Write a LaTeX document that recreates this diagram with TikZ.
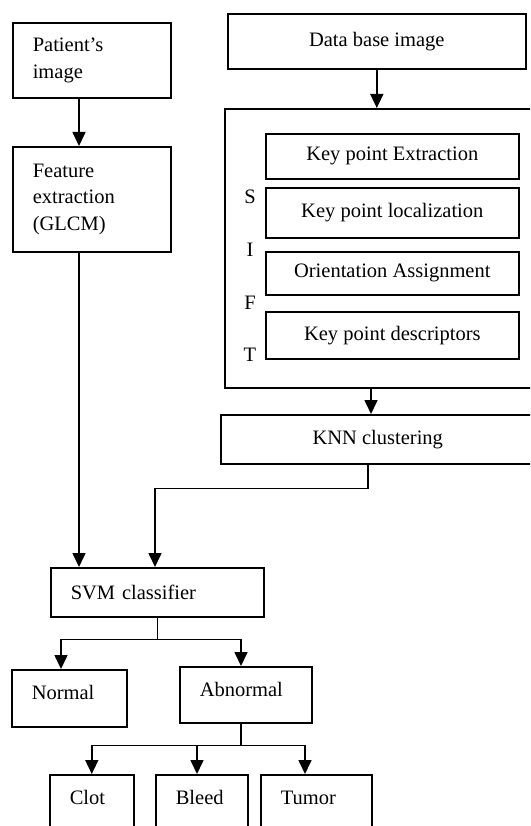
\documentclass[tikz,border=0pt]{standalone}
\usepackage{fontspec}
\setmainfont{Liberation Serif}
\usetikzlibrary{arrows.meta}
\tikzset{
  box/.style={draw, line width=1.6pt, anchor=north west, inner sep=0pt},
  lbox/.style={box, align=left, text width=#1, inner xsep=20pt},
  cbox/.style={box, align=center, minimum width=#1},
  low/.style={inner ysep=16pt, text height=14pt, text depth=#1},
  arr/.style={line width=1.6pt, -{Triangle[length=14pt,width=13pt]}},
  line/.style={line width=1.6pt},
}
\begin{document}
\begin{tikzpicture}[x=1pt, y=-1pt, font=\fontsize{20.5pt}{26.5pt}\selectfont]
\useasboundingbox (0,0) rectangle (530,826);
\clip (0,0) rectangle (530,826);
\node[lbox=118pt, minimum height=75pt] (patient) at (12,22) {Patient's\\image};
\node[lbox=118pt, minimum height=105pt] (feature) at (12,146) {Feature\\extraction\\(GLCM)};
\node[cbox=298pt, minimum height=55pt] (db) at (227,13) {Data base image};
\node[box, minimum width=310pt, minimum height=279pt] (sift) at (224,108) {};
\node[cbox=253pt, minimum height=45pt] (kpe) at (265,133) {Key point Extraction};
\node[cbox=253pt, minimum height=50pt] (kpl) at (265,187) {Key point localization};
\node[cbox=253pt, minimum height=43pt] (ori) at (265,251) {Orientation Assignment};
\node[cbox=253pt, minimum height=47pt] (kpd) at (265,311) {Key point descriptors};
\node (ls) at (250,197) {S};
\node (li) at (250,250) {I};
\node (lf) at (250,303) {F};
\node (lt) at (250,355) {T};
\node[cbox=314pt, minimum height=49pt] (knn) at (220,414) {KNN clustering};
\node[lbox=173pt, minimum height=49pt] (svm) at (50,567) {SVM classifier};
\node[lbox=75pt, low=11pt] (normal) at (11,669) {Normal};
\node[lbox=92pt, low=10pt] (abnormal) at (179,666) {Abnormal};
\node[lbox=44pt, low=30pt] (clot) at (49,774) {Clot};
\node[lbox=52pt, low=30pt] (bleed) at (155,774) {Bleed};
\node[lbox=71pt, low=30pt] (tumor) at (260,774) {Tumor};
\coordinate (lcol) at (79,0);
\coordinate (kin) at (371,0);
\coordinate (kout) at (368,0);
\coordinate (sin) at (155,0);
\coordinate (nin) at (61,0);
\coordinate (ain) at (241,0);
\coordinate (bin) at (197,0);
\coordinate (tin) at (305,0);
\draw[arr] (lcol |- patient.south) -- (lcol |- feature.north);
\draw[arr] (lcol |- feature.south) -- (lcol |- svm.north);
\draw[arr] (db.south) -- (db.south |- sift.north);
\draw[arr] (kin |- sift.south) -- (kin |- knn.north);
\draw[arr] (kout |- knn.south) -- ++(0,24) -| (sin |- svm.north);
\draw[line] (svm.south) -- ++(0,22) coordinate (svsplit);
\draw[arr] (svsplit) -| (nin |- normal.north);
\draw[arr] (svsplit) -| (ain |- abnormal.north);
\draw[line] (ain |- abnormal.south) -- ++(0,22) coordinate (absplit);
\draw[arr] (absplit) -| (clot.north);
\draw[arr] (absplit) -| (bin |- bleed.north);
\draw[arr] (absplit) -| (tin |- tumor.north);
\end{tikzpicture}
\end{document}
